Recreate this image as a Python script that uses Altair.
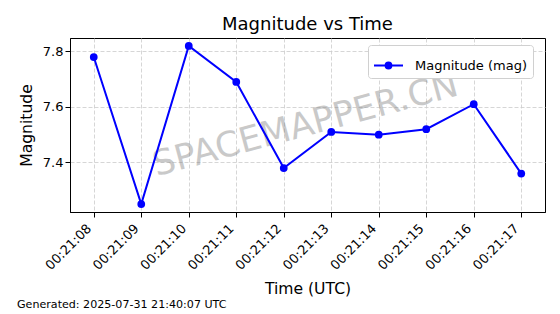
import altair as alt
import pandas as pd

times = ["00:21:08", "00:21:09", "00:21:10", "00:21:11", "00:21:12",
         "00:21:13", "00:21:14", "00:21:15", "00:21:16", "00:21:17"]
magnitudes = [7.78, 7.25, 7.82, 7.69, 7.38, 7.51, 7.50, 7.52, 7.61, 7.36]
y_ticks = [7.4, 7.6, 7.8]
series_name = "Magnitude (mag)"
title_text = "Magnitude vs Time"
watermark_text = "SPACEMAPPER.CN"
footer_text = "Generated: 2025-07-31 21:40:07 UTC"

df = pd.DataFrame({"time": times, "mag": magnitudes, "series": [series_name] * len(times)})

FONT = "DejaVu Sans"
BLUE = "#0000ff"
W, H = 475, 174

lo, hi = min(magnitudes), max(magnitudes)
pad = (hi - lo) * 0.05

x = alt.X("time:O", sort=times, title="Time (UTC)",
          scale=alt.Scale(type="point", padding=0.5),
          axis=alt.Axis(labelAngle=315, labelAlign="right", labelBaseline="bottom",
                        labelPadding=14, titlePadding=9, grid=True))
y = alt.Y("mag:Q", title="Magnitude",
          scale=alt.Scale(domain=[lo - pad, hi + pad], nice=False, zero=False),
          axis=alt.Axis(values=y_ticks, format=".1f", titlePadding=8))

base = alt.Chart(df)

line = base.mark_line(color=BLUE, strokeWidth=2).encode(x=x, y=y)
pts = base.mark_point(filled=True, size=60, opacity=1).encode(
    x=x, y=y,
    color=alt.Color("series:N", scale=alt.Scale(range=[BLUE]), title=None,
                    legend=alt.Legend(
                        orient="none", legendX=298, legendY=7,
                        symbolType="M-1,0H1M0.2,0A0.2,0.2 0 1,1 -0.2,0A0.2,0.2 0 1,1 0.2,0Z",
                        symbolSize=841, symbolStrokeWidth=2,
                        symbolStrokeColor=BLUE, symbolFillColor=BLUE,
                        labelFont=FONT, labelFontSize=13, labelColor="black",
                        labelOffset=11, padding=5,
                        strokeColor="#d0d0d0", fillColor="white", cornerRadius=3)))

watermark = alt.Chart(pd.DataFrame({"t": [watermark_text]})).mark_text(
    font=FONT, fontSize=35, color="gray", opacity=0.42, angle=345,
    align="center", baseline="middle").encode(
    text="t:N", x=alt.value(W / 2 - 2), y=alt.value(H / 2))

footer = alt.Chart(pd.DataFrame({"t": [footer_text]})).mark_text(
    font=FONT, fontSize=11.1, color="black", align="left", baseline="middle").encode(
    text="t:N", x=alt.value(-53), y=alt.value(267))

chart = alt.layer(watermark, line, pts, footer).properties(
    width=W, height=H, background="white",
    title=alt.TitleParams(title_text, font=FONT, fontSize=18, fontWeight="normal",
                          color="black", offset=4, anchor="middle"),
    autosize=alt.AutoSizeParams(type="none"),
    padding={"left": 70, "top": 38, "right": 15, "bottom": 102},
).configure_view(stroke="black", strokeWidth=1).configure_axis(
    labelFont=FONT, labelFontSize=13, labelColor="black",
    titleFont=FONT, titleFontSize=15.6, titleColor="black", titleFontWeight="normal",
    domainColor="black", tickColor="black", tickSize=5, tickWidth=1,
    gridColor="#cccccc", gridDash=[4, 2], gridWidth=0.8,
)

chart.save("out.html", embed_options={"renderer": "svg", "actions": False})
